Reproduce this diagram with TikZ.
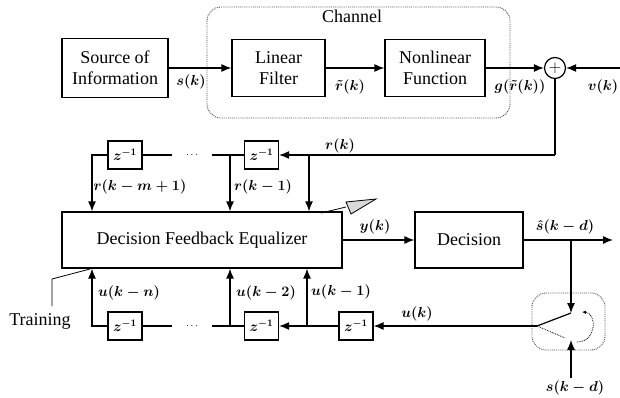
\documentclass[tikz,border=0pt]{standalone}
\usepackage{fontspec}
\setmainfont{Liberation Serif}
\usetikzlibrary{arrows.meta}
\begin{document}
\begin{tikzpicture}[x=1pt,y=-1pt,
 box/.style={draw,line width=1.2pt,inner sep=0pt,align=center,font=\fontsize{18}{21}\selectfont},
 zbox/.style={draw,line width=1.2pt,minimum width=34pt,minimum height=28pt,inner sep=0pt,font=\fontsize{14}{16}\selectfont\boldmath},
 arr/.style={-{Latex[length=10pt,width=8pt]}},
 ln/.style={line width=1.2pt},
 lab/.style={inner sep=0pt,font=\fontsize{15}{18}\selectfont\boldmath},
 txt/.style={inner sep=0pt,font=\fontsize{18}{21}\selectfont},
 dotsnode/.style={minimum width=40pt,inner sep=0pt},
 dotbox/.style={draw=black!70,densely dotted,line width=0.9pt,rounded corners=14pt},
 thin/.style={line width=0.8pt}]
\useasboundingbox (0,0) rectangle (620,398);
% channel
\draw[dotbox] (207,7) rectangle (510,118);
\node[txt] (chl) at (352,16) {Channel};
% top row
\node[box,minimum width=106pt,minimum height=59pt] (src) at (115,68) {Source of\\Information};
\node[box,minimum width=93pt,minimum height=57pt] (lf) at (278.5,68) {Linear\\Filter};
\node[box,minimum width=100pt,minimum height=57pt] (nl) at (435,68) {Nonlinear\\Function};
\node[draw,circle,line width=1.2pt,minimum size=21pt,inner sep=0pt,font=\fontsize{16}{16}\selectfont] (add) at (555,68) {$+$};
\coordinate (vin) at (620,68);
\draw[ln,arr] (src) -- (lf);
\draw[ln,arr] (lf) -- (nl);
\draw[ln,arr] (nl) -- (add);
\draw[ln,arr] (vin) -- (add);
\node[lab] (ls) at (191,82) {$s(k)$};
\node[lab] (lrt) at (350,87) {$\tilde r(k)$};
\node[lab] (lg) at (520,87) {$g(\tilde r(k))$};
\node[lab] (lv) at (603,87) {$v(k)$};
% feedforward delay line
\node[zbox] (zt1) at (125,155) {$z^{-1}$};
\node[zbox] (zt2) at (261.5,155) {$z^{-1}$};
\node[dotsnode] (dots1) at (192,155) {$\cdots$};
\node[box,minimum width=280pt,minimum height=56pt] (dfe) at (202,240) {Decision Feedback Equalizer};
\node[box,minimum width=108pt,minimum height=56pt] (dec) at (469,240) {Decision};
\coordinate (rc) at (555,155);
\coordinate (rb) at (309,155);
\coordinate (t1) at (230,155);
\coordinate (t0) at (92,155);
\draw[ln] (add) -- (rc);
\draw[ln,arr] (rc) -- (zt2.east);
\draw[ln,arr] (rb) -- (rb|-dfe.north);
\draw[ln] (zt2.west) -- (dots1.east);
\draw[ln] (dots1.west) -- (zt1.east);
\draw[ln,arr] (t1) -- (t1|-dfe.north);
\draw[ln,arr] (zt1.west) -- (t0) -- (t0|-dfe.north);
\node[lab] (lr) at (340,146) {$r(k)$};
\node[lab] (lr1) at (263,187) {$r(k-1)$};
\node[lab] (lrm) at (140,187) {$r(k-m+1)$};
% adaptation mark
\draw[thin] (321,213) -- (346,207);
\draw[thin,fill=black!15] (346,202) -- (376,199) -- (351,214) -- cycle;
% decision
\coordinate (out) at (613,240);
\coordinate (tap) at (571,240);
\draw[ln,arr] (dfe.east) -- (dec.west);
\draw[ln,arr] (dec.east) -- (out);
\node[lab] (ly) at (375,227) {$y(k)$};
\node[lab] (lsh) at (565,227) {$\hat s(k-d)$};
% switch
\draw[dotbox] (532,293) rectangle (605,350);
\coordinate (piv) at (537,326);
\coordinate (c1) at (571,313);
\coordinate (c2) at (571,340);
\coordinate (sin) at (571,378);
\draw[ln,arr] (tap) -- (c1);
\draw[ln] (piv) -- (c1);
\draw[ln,arr] (sin) -- (c2);
\draw[thin,densely dotted] (piv) -- (565,338);
\draw[thin,densely dotted,-{Latex[length=4pt,width=3.5pt]}] (577,342) .. controls (597,342) and (597,313) .. (582,312);
\node[lab] (lsd) at (575,388) {$s(k-d)$};
% feedback delay line
\node[zbox] (zb1) at (125,326) {$z^{-1}$};
\node[zbox] (zb2) at (261.5,326) {$z^{-1}$};
\node[zbox] (zb3) at (356,326) {$z^{-1}$};
\node[dotsnode] (dots2) at (192,326) {$\cdots$};
\coordinate (b2) at (307,326);
\coordinate (b1) at (230,326);
\coordinate (b0) at (92,326);
\draw[ln,arr] (piv) -- (zb3.east);
\draw[ln,arr] (zb3.west) -- (zb2.east);
\draw[ln,arr] (b2) -- (b2|-dfe.south);
\draw[ln,arr] (b1) -- (b1|-dfe.south);
\draw[ln] (zb2.west) -- (dots2.east);
\draw[ln] (dots2.west) -- (zb1.east);
\draw[ln,arr] (zb1.west) -- (b0) -- (b0|-dfe.south);
\node[lab] (lu) at (417,314) {$u(k)$};
\node[lab] (lu1) at (341,292) {$u(k-1)$};
\node[lab] (lu2) at (266,293) {$u(k-2)$};
\node[lab] (lun) at (129,293) {$u(k-n)$};
% training
\node[txt] (train) at (40,321) {Training};
\coordinate (tr0) at (52,306);
\coordinate (tr1) at (52,279);
\coordinate (tr2) at (90,269);
\draw[thin] (tr0) -- (tr1) -- (tr2);
\end{tikzpicture}
\end{document}
